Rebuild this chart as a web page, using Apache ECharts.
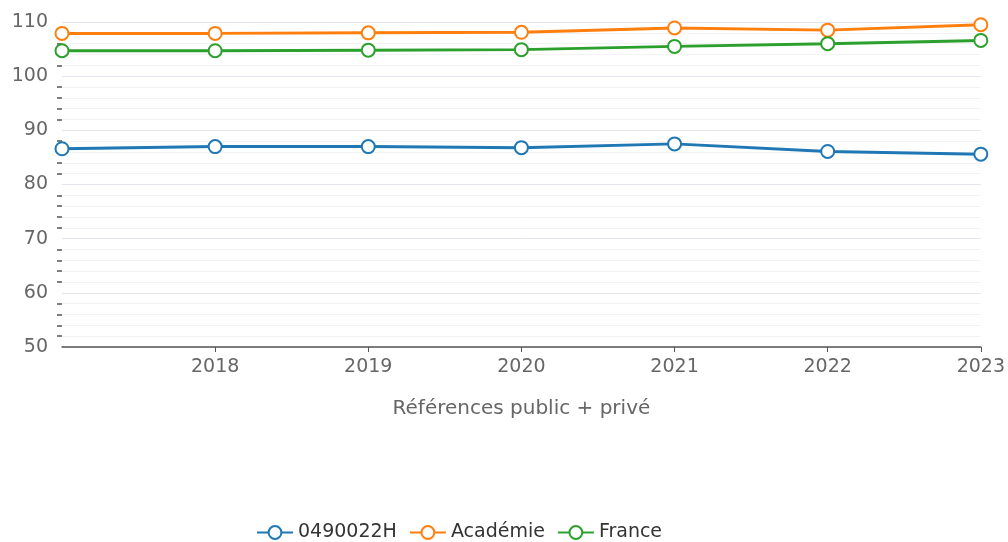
<!DOCTYPE html>
<html>
<head>
<meta charset="utf-8">
<script src="https://cdn.jsdelivr.net/npm/echarts@6/dist/echarts.min.js"></script>
<style>
  html, body { margin: 0; padding: 0; background: #fff; }
  #main { width: 1008px; height: 542px; }
</style>
</head>
<body>
<div id="main"></div>
<script>
// years on x axis (first one has no label)
var years = ["2017", "2018", "2019", "2020", "2021", "2022", "2023"];
var etab = [86.6, 87.0, 87.0, 86.8, 87.5, 86.1, 85.6];
var academie = [107.9, 107.9, 108.0, 108.1, 108.9, 108.5, 109.5];
var france = [104.7, 104.7, 104.8, 104.9, 105.5, 106.0, 106.6];
var seriesNames = ["0490022H", "Académie", "France"];
var colors = ["#1f77b4", "#ff7f0e", "#2ca02c"];

var chart = echarts.init(document.getElementById("main"));

function mkSeries(name, data, color) {
  return {
    name: name,
    type: "line",
    data: data,
    symbol: "emptyCircle",
    symbolSize: 13,
    lineStyle: { color: color, width: 3 },
    itemStyle: { color: color, borderColor: color, borderWidth: 3 }
  };
}

var option = {
  animation: false,
  textStyle: { fontFamily: "DejaVu Sans" },
  color: colors,
  grid: { left: 62, right: 21, top: 22, bottom: 195, containLabel: false },
  legend: {
    bottom: 0,
    left: 256,
    padding: 0,
    itemWidth: 36,
    itemHeight: 16,
    itemGap: 12,
    textStyle: { color: "#333", fontSize: 19 },
    data: seriesNames
  },
  xAxis: {
    type: "category",
    boundaryGap: false,
    data: years,
    name: "Références public + privé",
    nameLocation: "middle",
    nameGap: 52,
    nameTextStyle: { color: "#666", fontSize: 20 },
    axisLine: { lineStyle: { color: "#555", width: 1.5 } },
    axisTick: {
      lineStyle: { color: "#555" },
      interval: function (i) { return i > 0; }
    },
    axisLabel: {
      color: "#666",
      fontSize: 19,
      margin: 11,
      interval: function (i) { return i > 0; }
    },
    splitLine: { show: false }
  },
  yAxis: {
    type: "value",
    min: 50,
    max: 110,
    interval: 10,
    axisLine: { show: false },
    axisTick: { show: false },
    axisLabel: { color: "#666", fontSize: 19, margin: 14 },
    splitLine: { lineStyle: { color: "#e3e5ec", width: 1 } },
    minorTick: { show: true, splitNumber: 5, length: 5, lineStyle: { color: "#555", width: 1.5 } },
    minorSplitLine: { show: true, lineStyle: { color: "#f3f3f5", width: 1 } }
  },
  series: [
    mkSeries(seriesNames[0], etab, colors[0]),
    mkSeries(seriesNames[1], academie, colors[1]),
    mkSeries(seriesNames[2], france, colors[2])
  ]
};

chart.setOption(option);
</script>
</body>
</html>
